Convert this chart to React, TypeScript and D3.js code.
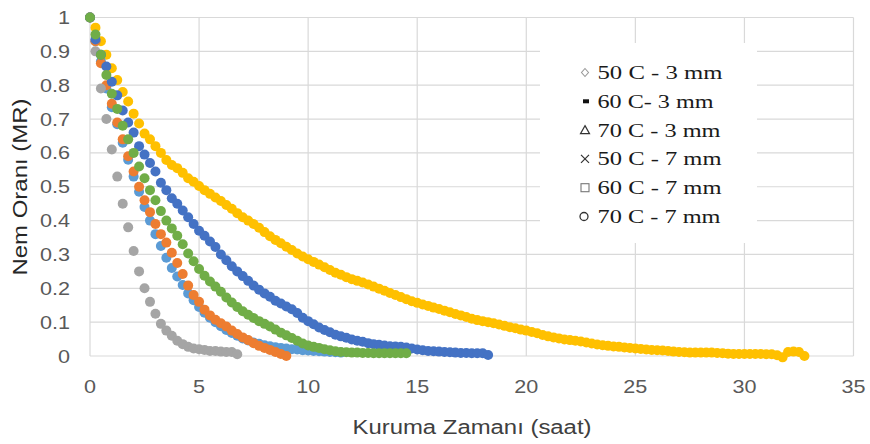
import React from 'react';
import * as d3 from 'd3';

// Measurement interval (hours) read from the spacing of the points
const timeStepHours = 0.25;

const xTicks = [0, 5, 10, 15, 20, 25, 30, 35];
const yTicks = [0, 0.1, 0.2, 0.3, 0.4, 0.5, 0.6, 0.7, 0.8, 0.9, 1];

const legendLabels = ['50 C - 3 mm', '60 C- 3 mm', '70 C - 3 mm', '50 C - 7 mm', '60 C - 7 mm', '70 C - 7 mm'];
const legendSymbols = ['diamond', 'smallrect', 'triangle', 'cross', 'square', 'circle'];

const mrYellow = [
  1.0, 0.97, 0.93, 0.89, 0.85, 0.815, 0.78, 0.752, 0.716, 0.687, 0.657, 0.64, 0.62, 0.6, 0.579, 0.564, 0.555, 0.541, 0.525, 0.515,
  0.502, 0.49, 0.479, 0.468, 0.458, 0.446, 0.435, 0.422, 0.41, 0.4, 0.39, 0.379, 0.366, 0.354, 0.343, 0.333, 0.323, 0.313, 0.303, 0.294,
  0.286, 0.278, 0.27, 0.262, 0.254, 0.246, 0.24, 0.233, 0.227, 0.222, 0.217, 0.211, 0.205, 0.199, 0.193, 0.186, 0.18, 0.174, 0.168, 0.162,
  0.157, 0.152, 0.148, 0.143, 0.139, 0.134, 0.129, 0.124, 0.12, 0.115, 0.11, 0.106, 0.103, 0.1, 0.097, 0.093, 0.089, 0.085, 0.082, 0.078,
  0.075, 0.071, 0.067, 0.062, 0.058, 0.055, 0.052, 0.049, 0.047, 0.045, 0.043, 0.04, 0.037, 0.034, 0.032, 0.03, 0.028, 0.027, 0.025, 0.024,
  0.022, 0.021, 0.019, 0.018, 0.017, 0.016, 0.015, 0.013, 0.012, 0.011, 0.01, 0.01, 0.01, 0.01, 0.01, 0.009, 0.008, 0.007, 0.006, 0.006,
  0.006, 0.006, 0.006, 0.006, 0.005, 0.005, 0.002, -0.004, 0.012, 0.013, 0.012, 0.0,
];

const mrLightBlue = [
  1.0, 0.93, 0.87, 0.79, 0.735, 0.685, 0.63, 0.58, 0.53, 0.485, 0.44, 0.4, 0.36, 0.325, 0.29, 0.26, 0.235, 0.21, 0.185, 0.165,
  0.145, 0.128, 0.113, 0.1, 0.088, 0.077, 0.068, 0.06, 0.052, 0.046, 0.04, 0.036, 0.032, 0.029, 0.026, 0.024, 0.022, 0.02, 0.019, 0.017,
  0.016, 0.015, 0.014, 0.013, 0.012, 0.011, 0.01,
];

const mrOrange = [
  1.0, 0.93, 0.865, 0.8, 0.745, 0.69, 0.64, 0.59, 0.545, 0.5, 0.46, 0.425, 0.39, 0.36, 0.335, 0.305, 0.275, 0.242, 0.208, 0.18,
  0.16, 0.137, 0.12, 0.107, 0.097, 0.087, 0.075, 0.065, 0.055, 0.047, 0.038, 0.03, 0.024, 0.018, 0.012, 0.006, 0.0,
];

const mrGray = [
  1.0, 0.9, 0.79, 0.7, 0.61, 0.53, 0.45, 0.38, 0.31, 0.25, 0.2, 0.16, 0.125, 0.095, 0.075, 0.06, 0.045, 0.035, 0.027, 0.022,
  0.02, 0.018, 0.015, 0.015, 0.013, 0.012, 0.012, 0.005,
];

const mrBlue = [
  1.0, 0.935, 0.89, 0.855, 0.81, 0.77, 0.725, 0.69, 0.66, 0.62, 0.595, 0.57, 0.545, 0.512, 0.49, 0.466, 0.45, 0.43, 0.41, 0.39,
  0.37, 0.355, 0.338, 0.322, 0.3, 0.283, 0.265, 0.25, 0.236, 0.222, 0.208, 0.196, 0.185, 0.175, 0.163, 0.155, 0.146, 0.138, 0.127, 0.113,
  0.103, 0.094, 0.084, 0.077, 0.07, 0.063, 0.058, 0.054, 0.049, 0.045, 0.042, 0.038, 0.035, 0.033, 0.031, 0.029, 0.028, 0.027, 0.025, 0.022,
  0.019, 0.017, 0.015, 0.014, 0.013, 0.012, 0.011, 0.01, 0.009, 0.009, 0.008, 0.008, 0.008, 0.003,
];

const mrGreen = [
  1.0, 0.95, 0.89, 0.83, 0.775, 0.73, 0.68, 0.64, 0.6, 0.56, 0.525, 0.49, 0.46, 0.428, 0.4, 0.377, 0.355, 0.33, 0.303, 0.28,
  0.257, 0.237, 0.22, 0.205, 0.19, 0.173, 0.158, 0.145, 0.132, 0.122, 0.112, 0.103, 0.095, 0.087, 0.078, 0.069, 0.061, 0.053, 0.045, 0.037,
  0.031, 0.027, 0.024, 0.02, 0.017, 0.014, 0.012, 0.011, 0.01, 0.01, 0.009, 0.009, 0.008, 0.008, 0.008, 0.008, 0.008, 0.008, 0.008,
];

// draw order (first = bottom)
const seriesValues = [mrYellow, mrLightBlue, mrOrange, mrGray, mrBlue, mrGreen];
const seriesColors = ['#FFC000', '#5B9BD5', '#ED7D31', '#A5A5A5', '#4472C4', '#70AD47'];

const W = 870;
const H = 444;
const plot = { left: 90, right: 853.5, top: 17.5, bottom: 356 };

export default function App() {
  const x = d3.scaleLinear().domain([0, 35]).range([plot.left, plot.right]);
  const y = d3.scaleLinear().domain([0, 1]).range([plot.bottom, plot.top]);
  const tickColor = '#595959';
  const gridColor = '#d9d9d9';
  const legendX = 585;
  const legendRow0 = 72.5;
  const legendRowStep = 28.8;

  const symbol = (kind: string, cx: number, cy: number) => {
    switch (kind) {
      case 'diamond':
        return <path d={`M${cx},${cy - 4}L${cx + 3.5},${cy}L${cx},${cy + 4}L${cx - 3.5},${cy}Z`} fill="none" stroke="#9a9a9a" strokeWidth={1.1} />;
      case 'smallrect':
        return <rect x={cx - 2} y={cy - 2} width={6} height={4} fill="#111" />;
      case 'triangle':
        return <path d={`M${cx},${cy - 4.5}L${cx + 4.5},${cy + 3.5}L${cx - 4.5},${cy + 3.5}Z`} fill="none" stroke="#333" strokeWidth={1.2} />;
      case 'cross':
        return <path d={`M${cx - 4},${cy - 4}L${cx + 4},${cy + 4}M${cx + 4},${cy - 4}L${cx - 4},${cy + 4}`} stroke="#333" strokeWidth={1.2} />;
      case 'square':
        return <rect x={cx - 4} y={cy - 4} width={8} height={8} fill="none" stroke="#777" strokeWidth={1.1} />;
      default:
        return <circle cx={cx - 1} cy={cy} r={4} fill="none" stroke="#333" strokeWidth={1.3} />;
    }
  };

  const legendWidths = [125, 116, 123, 124, 124, 123];

  return (
    <svg width={W} height={H} style={{ position: 'absolute', left: 0, top: 0, background: '#fff' }}>
      <rect x={0} y={0} width={W} height={H} fill="#fff" />
      {/* gridlines */}
      {yTicks.map((t) => (
        <line key={'hy' + t} x1={plot.left} x2={plot.right} y1={y(t)} y2={y(t)} stroke={gridColor} strokeWidth={1.2} />
      ))}
      {xTicks.map((t) => (
        <line key={'vx' + t} x1={x(t)} x2={x(t)} y1={plot.top} y2={plot.bottom} stroke={gridColor} strokeWidth={1.2} />
      ))}
      {/* tick labels */}
      {yTicks.map((t) => (
        <g key={'ly' + t} transform={`translate(70,${y(t) + 6.5}) scale(1.2,1)`}>
          <text textAnchor="end" fontFamily="Liberation Sans, Arial, sans-serif" fontSize={18} fill={tickColor}>
            {d3.format('~g')(t)}
          </text>
        </g>
      ))}
      {xTicks.map((t) => (
        <g key={'lx' + t} transform={`translate(${x(t)},393) scale(1.2,1)`}>
          <text textAnchor="middle" fontFamily="Liberation Sans, Arial, sans-serif" fontSize={18} fill={tickColor}>
            {t}
          </text>
        </g>
      ))}
      {/* axis titles */}
      <text x={472} y={434} textAnchor="middle" fontFamily="Liberation Sans, Arial, sans-serif" fontSize={20} fill="#404040"
        textLength={239} lengthAdjust="spacingAndGlyphs">Kuruma Zamanı (saat)</text>
      <text transform="translate(27,187) rotate(-90)" textAnchor="middle" fontFamily="Liberation Sans, Arial, sans-serif" fontSize={21}
        fill="#262626" textLength={177} lengthAdjust="spacingAndGlyphs">Nem Oranı (MR)</text>
      {/* data points */}
      {seriesValues.map((vals, si) => (
        <g key={'s' + si} fill={seriesColors[si]}>
          {vals.map((v, i) => (
            <circle key={i} cx={x(i * timeStepHours)} cy={y(v)} r={5} />
          ))}
        </g>
      ))}
      {/* legend text box */}
      <rect x={540} y={43} width={217} height={200} fill="#fff" />
      {legendLabels.map((lab, i) => {
        const cy = legendRow0 + i * legendRowStep;
        return (
          <g key={'lg' + i}>
            {symbol(legendSymbols[i], legendX, cy)}
            <text x={597.5} y={cy + 6.5} fontFamily="Liberation Serif, Times New Roman, serif" fontSize={19} fill="#1a1a1a"
              textLength={legendWidths[i]} lengthAdjust="spacingAndGlyphs">{lab}</text>
          </g>
        );
      })}
    </svg>
  );
}
